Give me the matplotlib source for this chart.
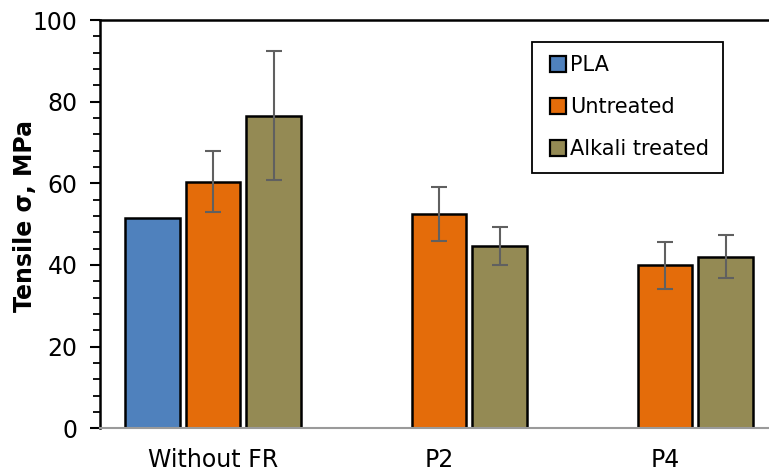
import matplotlib

matplotlib.use("Agg")

import matplotlib.pyplot as plt  # noqa: E402
import numpy as np  # noqa: E402
from matplotlib.lines import Line2D  # noqa: E402
from matplotlib.ticker import MultipleLocator  # noqa: E402

# Tensile strength (MPa) per formulation, mean and standard deviation.
groups = ["Without FR", "P2", "P4"]
series = ["PLA", "Untreated", "Alkali treated"]
pla_mean = [51.4, np.nan, np.nan]
pla_err = [0.0, 0.0, 0.0]
untreated_mean = [60.4, 52.5, 39.9]
untreated_err = [7.5, 6.6, 5.7]
alkali_mean = [76.6, 44.6, 42.0]
alkali_err = [15.9, 4.6, 5.3]

colors = ["#4F81BD", "#E46C0A", "#948A54"]

plt.rcParams["font.family"] = ["DejaVu Sans"]

fig = plt.figure(figsize=(7.69, 4.73), dpi=100)
ax = fig.add_axes([0.130, 0.0945, 0.8817, 0.8632])

x = np.arange(len(groups))
pitch = 0.268
width = 0.242
means = [pla_mean, untreated_mean, alkali_mean]
errs = [pla_err, untreated_err, alkali_err]

for i, (name, m, e, c) in enumerate(zip(series, means, errs, colors)):
    xs = x + (i - 1) * pitch
    ax.bar(xs, m, width, color=c, edgecolor="black", linewidth=1.8, zorder=2)
    has_err = np.array(e) > 0
    ax.errorbar(xs[has_err], np.array(m)[has_err], yerr=np.array(e)[has_err],
                fmt="none", ecolor="#606060", elinewidth=1.5, capsize=5.5,
                capthick=1.5, zorder=3)

ax.set_xlim(-0.5, 2.5)
ax.set_ylim(0, 100)
ax.yaxis.set_major_locator(MultipleLocator(20))
ax.yaxis.set_minor_locator(MultipleLocator(4))
ax.tick_params(axis="y", which="major", direction="out", length=7,
               width=1.5, labelsize=17, pad=9)
ax.tick_params(axis="y", which="minor", direction="out", length=5, width=1.3)
ax.set_xticks(x)
ax.set_xticklabels(groups)
ax.tick_params(axis="x", length=0, labelsize=17, pad=14)

ax.spines["left"].set_linewidth(1.8)
ax.spines["left"].set_color("black")
ax.spines["top"].set_linewidth(1.8)
ax.spines["top"].set_color("black")
ax.spines["right"].set_visible(False)
ax.spines["bottom"].set_color("#9A9A9A")
ax.spines["bottom"].set_linewidth(1.5)

ax.set_ylabel("Tensile σ, MPa", fontsize=17, fontweight="bold")
ax.yaxis.set_label_coords(-0.093, 0.519)

# square swatches with black outline, as in the bar styling
handles = [Line2D([], [], linestyle="none", marker="s", markersize=12,
                  markerfacecolor=c, markeredgecolor="black",
                  markeredgewidth=1.6) for c in colors]
leg = ax.legend(handles, series, loc="upper left",
                bbox_to_anchor=(531.5 / 769, 1 - 41.5 / 473),
                bbox_transform=fig.transFigure, fontsize=15,
                handlelength=1.2, handletextpad=0.0,
                labelspacing=1.05, borderpad=0.67, borderaxespad=0,
                fancybox=False, framealpha=1)
leg.get_frame().set_edgecolor("black")
leg.get_frame().set_linewidth(1.3)

fig.savefig("out.png", dpi=100)
